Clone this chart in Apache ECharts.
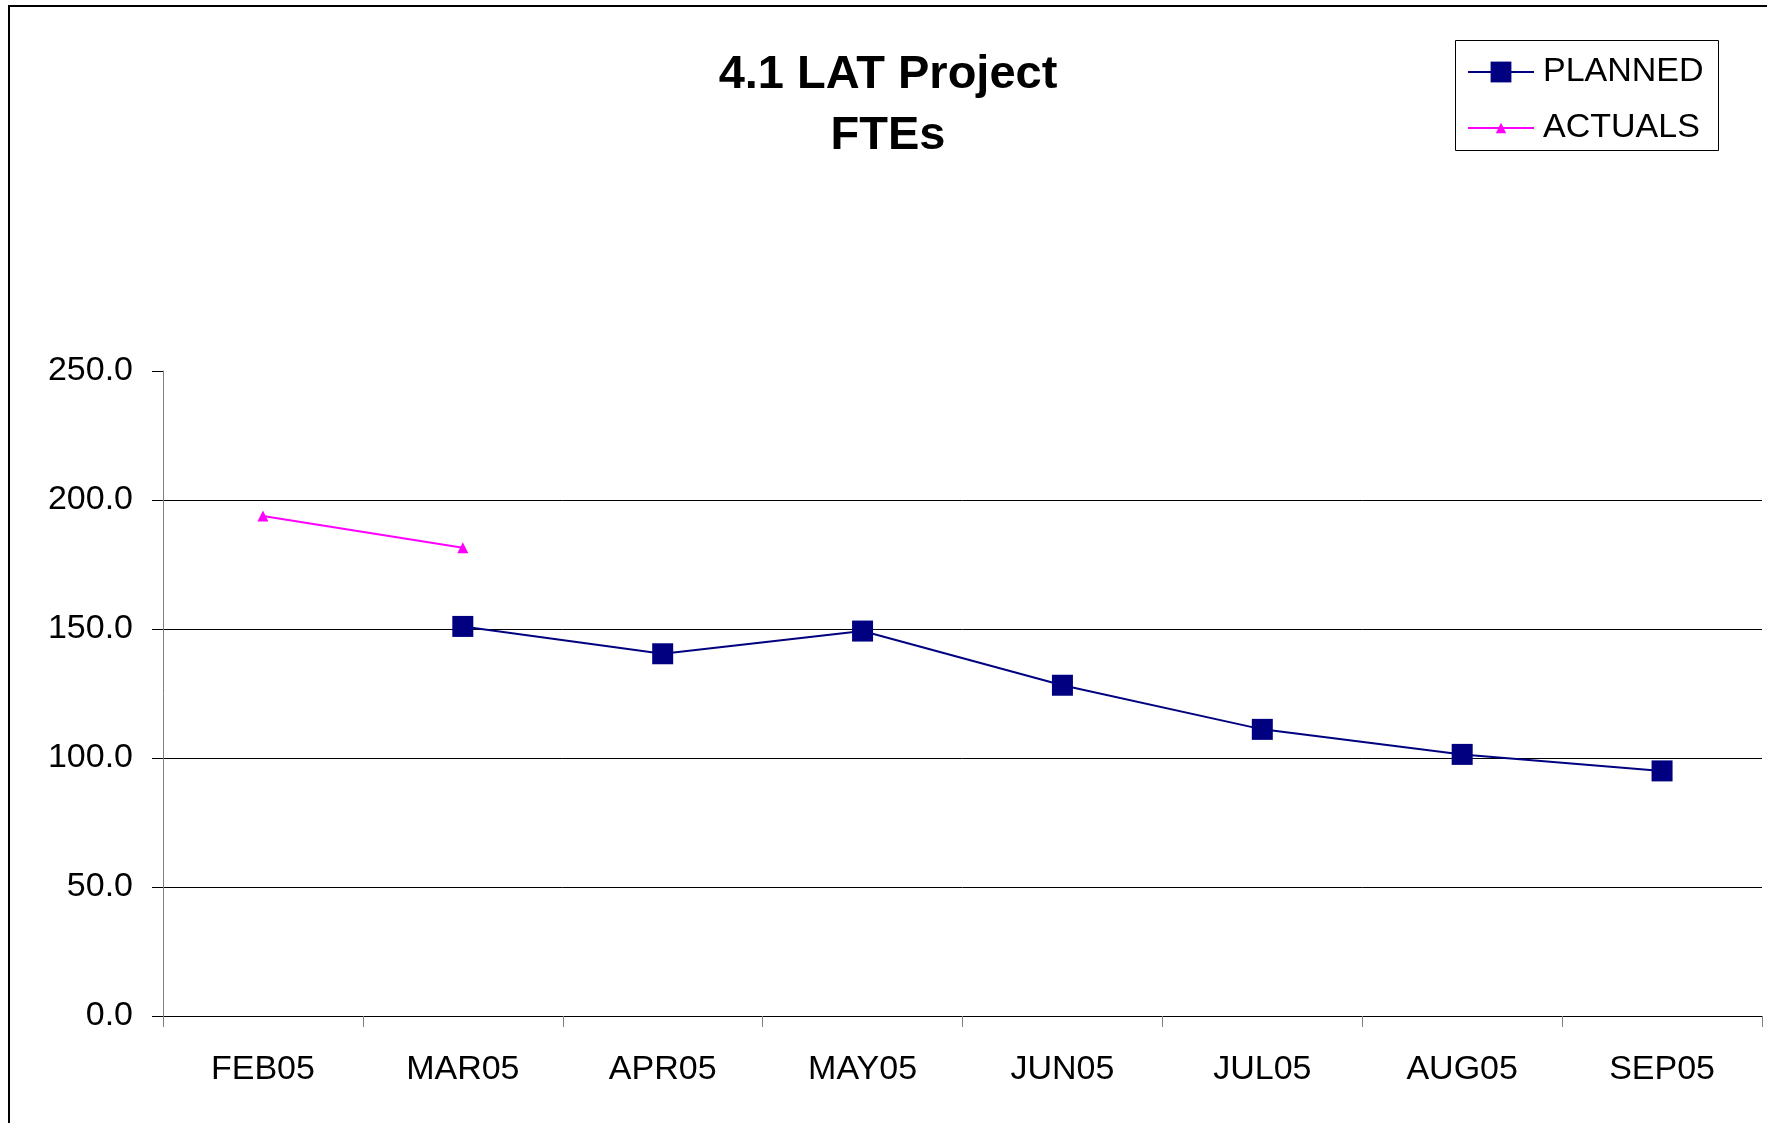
<!DOCTYPE html>
<html>
<head>
<meta charset="utf-8">
<script src="https://cdn.jsdelivr.net/npm/echarts@6/dist/echarts.min.js"></script>
<style>
html,body{margin:0;padding:0;background:#fff;}
#main{width:1767px;height:1123px;}
</style>
</head>
<body>
<div id="main"></div>
<script>
const titleLines = ['4.1 LAT Project', 'FTEs'];
const categories = ['FEB05', 'MAR05', 'APR05', 'MAY05', 'JUN05', 'JUL05', 'AUG05', 'SEP05'];
const plannedName = 'PLANNED';
const actualsName = 'ACTUALS';
const planned = [null, 151.0, 140.4, 149.2, 128.2, 111.1, 101.4, 95.0];
const actuals = [193.8, 181.5, null, null, null, null, null, null];
const yMin = 0, yMax = 250, yStep = 50;

const FONT = '"Liberation Sans", Arial, sans-serif';
const chart = echarts.init(document.getElementById('main'), null, {renderer: 'canvas'});
chart.setOption({
  animation: false,
  backgroundColor: '#ffffff',
  title: {
    text: titleLines.join('\n'),
    left: 883, top: 40,
    textAlign: 'center',
    textStyle: {fontFamily: FONT, fontWeight: 'bold', fontSize: 47, lineHeight: 61, color: '#000'}
  },
  legend: [
    {
      data: [plannedName], left: 1467, top: 52, padding: 0,
      itemWidth: 66, itemHeight: 26,
      selectedMode: false,
      textStyle: {fontFamily: FONT, fontSize: 34, lineHeight: 40, color: '#000', padding: [0, 0, 0, 4]}
    },
    {
      data: [actualsName], left: 1467, top: 108, padding: 0,
      itemWidth: 66, itemHeight: 13,
      selectedMode: false,
      textStyle: {fontFamily: FONT, fontSize: 34, lineHeight: 40, color: '#000', padding: [0, 0, 0, 4]}
    }
  ],
  graphic: [
    {type: 'rect', shape: {x: 9, y: 6, width: 1800, height: 1200}, style: {fill: 'none', stroke: '#000', lineWidth: 2}, silent: true, z: -1},
    {type: 'rect', shape: {x: 1455.5, y: 40.5, width: 263, height: 110}, style: {fill: 'none', stroke: '#000', lineWidth: 1}, silent: true}
  ],
  grid: {left: 163, right: 5, top: 371, bottom: 107, containLabel: false},
  xAxis: {
    type: 'category',
    data: categories,
    boundaryGap: true,
    axisLine: {lineStyle: {color: '#000', width: 1}},
    axisTick: {show: true, length: 11, lineStyle: {color: '#808080'}},
    axisLabel: {fontFamily: FONT, fontSize: 34, color: '#000', margin: 37, interval: 0}
  },
  yAxis: {
    type: 'value',
    min: yMin, max: yMax, interval: yStep,
    axisLine: {show: true, lineStyle: {color: '#808080', width: 1}},
    axisTick: {show: true, length: 11, lineStyle: {color: '#000'}},
    splitLine: {show: true, showMaxLine: false, lineStyle: {color: '#000', width: 1}},
    axisLabel: {fontFamily: FONT, fontSize: 34, color: '#000', margin: 30, formatter: v => v.toFixed(1)}
  },
  series: [
    {
      name: plannedName, type: 'line', data: planned,
      symbol: 'rect', symbolSize: 21,
      lineStyle: {color: '#000080', width: 2},
      itemStyle: {color: '#000080'},
      connectNulls: false
    },
    {
      name: actualsName, type: 'line', data: actuals,
      symbol: 'triangle', symbolSize: 11,
      lineStyle: {color: '#FF00FF', width: 2},
      itemStyle: {color: '#FF00FF'},
      connectNulls: false
    }
  ]
});
</script>
</body>
</html>
